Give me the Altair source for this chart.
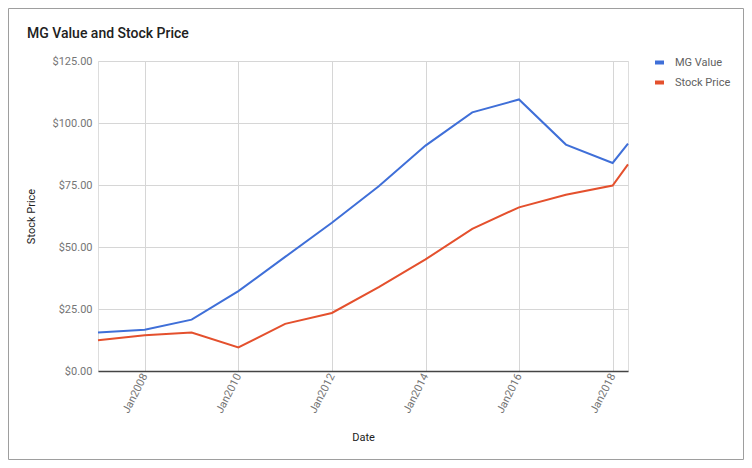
import altair as alt
import pandas as pd

dates = ["2007-01-01T00:00:00", "2008-01-01T00:00:00", "2009-01-01T00:00:00",
         "2010-01-01T00:00:00", "2011-01-01T00:00:00", "2012-01-01T00:00:00",
         "2013-01-01T00:00:00", "2014-01-01T00:00:00", "2015-01-01T00:00:00",
         "2016-01-01T00:00:00", "2017-01-01T00:00:00", "2018-01-01T00:00:00",
         "2018-05-01T00:00:00"]
mg_value = [15.5, 16.6, 20.7, 32.2, 46.0, 59.8, 74.5, 90.9, 104.3, 109.5, 91.3, 83.9, 91.7]
stock_price = [12.4, 14.4, 15.5, 9.5, 19.0, 23.4, 33.8, 45.0, 57.3, 66.0, 71.1, 74.8, 83.3]
series = ["MG Value", "Stock Price"]
colors = ["#3f6fd8", "#e4502d"]
y_ticks = [0, 25, 50, 75, 100, 125]
x_tick_years = [2008, 2010, 2012, 2014, 2016, 2018]
title_text = "MG Value and Stock Price"

rows = []
for d, v in zip(dates, mg_value):
    rows.append({"date": d, "value": v, "series": series[0]})
for d, v in zip(dates, stock_price):
    rows.append({"date": d, "value": v, "series": series[1]})
df = pd.DataFrame(rows)

W, H = 530, 310
FONT = "Roboto"

lines = alt.Chart(df).mark_line(strokeWidth=2).encode(
    x=alt.X(
        "date:T",
        scale=alt.Scale(domain=[alt.DateTime(year=2007, month=1, date=1),
                                alt.DateTime(year=2018, month=5, date=1)]),
        axis=alt.Axis(
            values=[alt.DateTime(year=y, month=1, date=1) for y in x_tick_years],
            format="%b%Y", labelAngle=297, labelAlign="right", labelBaseline="middle",
            labelPadding=3, ticks=False, domainColor="#444", domainWidth=1.5,
            gridColor="#d6d6d6", labelColor="#757575", labelFontSize=11, labelFont=FONT,
            title="Date", titleX=W / 2, titleY=66, titleBaseline="middle",
            titleFont=FONT, titleFontSize=11, titleFontWeight="normal", titleColor="#222222",
        ),
    ),
    y=alt.Y(
        "value:Q",
        scale=alt.Scale(domain=[0, 125], nice=False),
        axis=alt.Axis(
            values=y_ticks, format="$,.2f", ticks=False, domain=False, labelPadding=6,
            gridColor="#d6d6d6", labelColor="#757575", labelFontSize=11, labelFont=FONT,
            title="Stock Price", titleX=-67, titleY=H / 2, titleAngle=270,
            titleBaseline="middle", titleAlign="center",
            titleFont=FONT, titleFontSize=11, titleFontWeight="normal", titleColor="#222222",
        ),
    ),
    color=alt.Color(
        "series:N",
        scale=alt.Scale(domain=series, range=colors),
        legend=alt.Legend(
            title=None, orient="none", legendX=555, legendY=-5,
            symbolType="stroke", symbolStrokeWidth=4, symbolSize=81,
            labelFont=FONT, labelFontSize=11, labelColor="#616161",
            rowPadding=3, labelOffset=9,
        ),
    ),
)

one = pd.DataFrame({"k": [0]})
frame = alt.Chart(one).mark_rect(fill=None, stroke="#9e9e9e", strokeWidth=1, clip=False).encode(
    x=alt.value(-89.5), x2=alt.value(W + 115.5), y=alt.value(-52.5), y2=alt.value(H + 88.5)
)
title = alt.Chart(one).mark_text(
    align="left", baseline="alphabetic", font=FONT, fontSize=14, fontWeight=500,
    color="#212121", clip=False,
).encode(x=alt.value(-71), y=alt.value(-23), text=alt.value(title_text))

chart = alt.layer(frame, title, lines).properties(
    width=W, height=H,
    autosize=alt.AutoSizeParams(type="none"),
    padding={"left": 90, "top": 53, "right": 116, "bottom": 89},
).configure_view(stroke=None).configure(background="white")

chart.save("out.html", embed_options={"renderer": "svg", "actions": False})
